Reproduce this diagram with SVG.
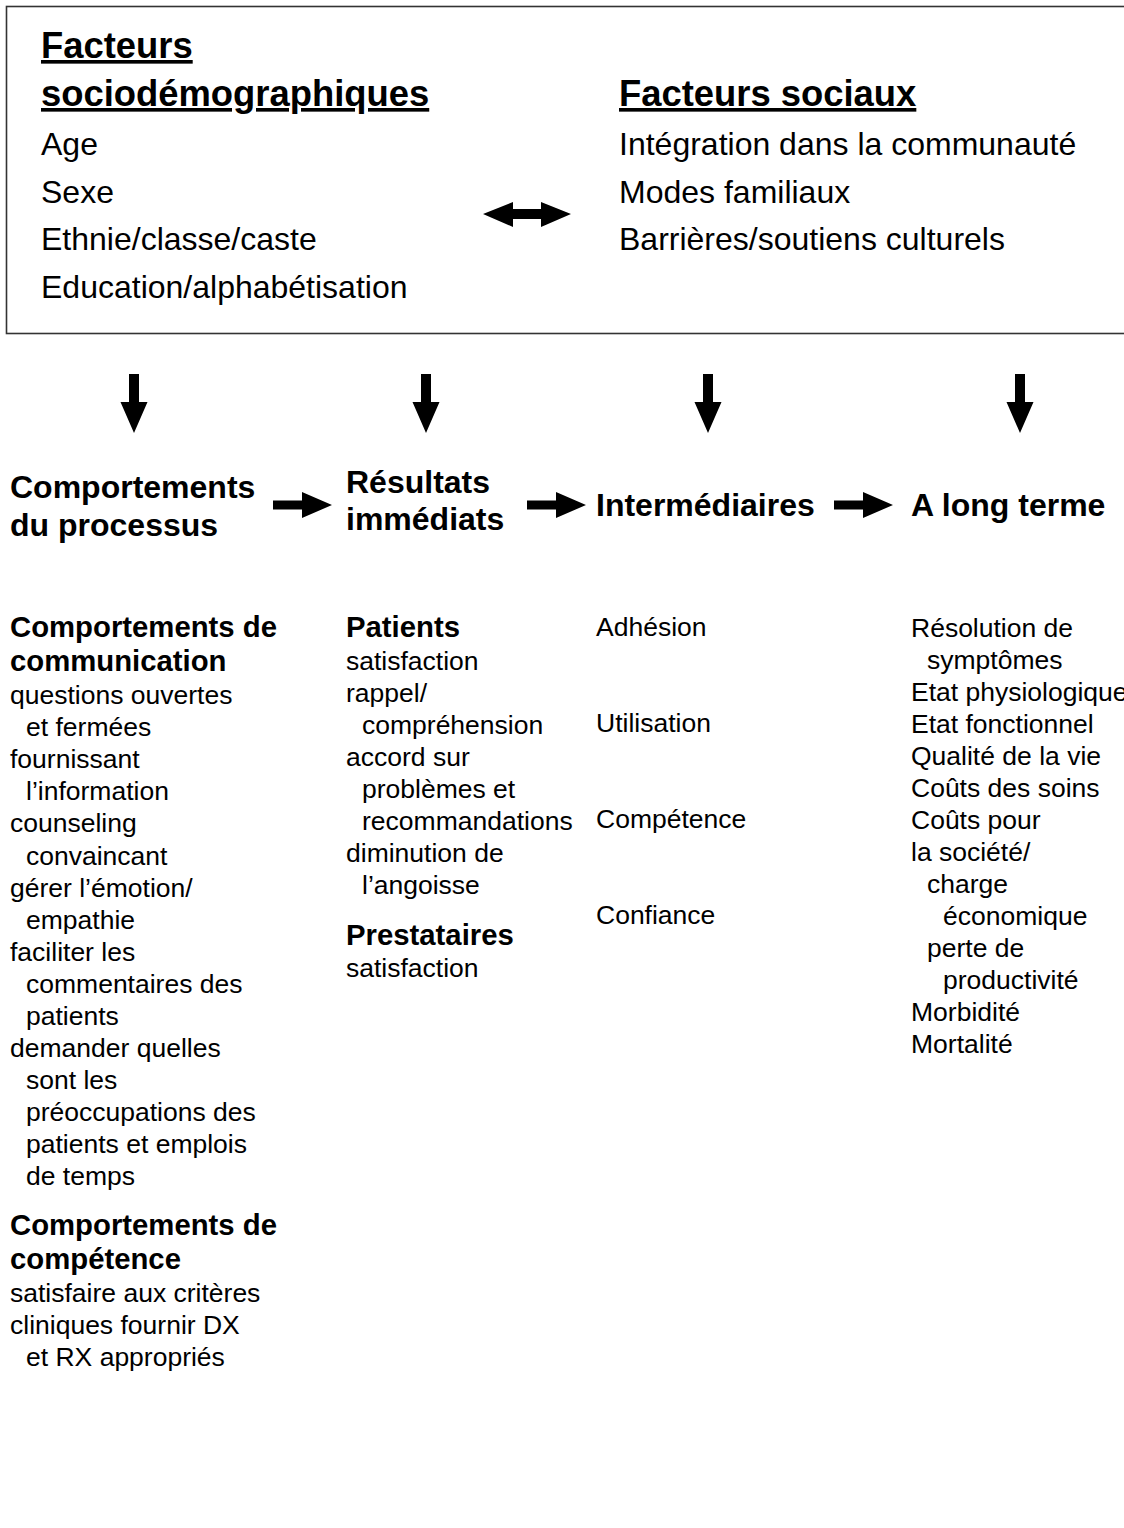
<svg xmlns="http://www.w3.org/2000/svg" xmlns:xlink="http://www.w3.org/1999/xlink" width="1124" height="1528" viewBox="0 0 1124 1528">
<style>
text { font-family: "Liberation Sans", Arial, sans-serif; fill: #000; }
.h1 { font-size: 36.4px; font-weight: bold; text-decoration: underline; }
.t1 { font-size: 32px; }
.h2 { font-size: 32px; font-weight: bold; }
.h3 { font-size: 29.3px; font-weight: bold; }
.t3 { font-size: 26.5px; }
.arr { fill: #000; }
</style>
<defs>
<path id="down" d="M-5,0 H5 V28 H13.5 L0,59 L-13.5,28 H-5 Z"/>
<path id="right" d="M0,-4.5 H29 V-13 L59,0 L29,13 V4.5 H0 Z"/>
</defs>
<rect width="1124" height="1528" fill="#fff"/>
<g id="box-facteurs">
<rect x="6.5" y="6.5" width="1130" height="327" fill="none" stroke="#333" stroke-width="1.6"/>
<g id="socio">
<text class="h1" x="41" y="58">Facteurs</text>
<text class="h1" x="41" y="106">sociodémographiques</text>
<text class="t1" x="41" y="155">Age</text>
<text class="t1" x="41" y="203">Sexe</text>
<text class="t1" x="41" y="250">Ethnie/classe/caste</text>
<text class="t1" x="41" y="298">Education/alphabétisation</text>
</g>
<g id="sociaux">
<text class="h1" x="619" y="106">Facteurs sociaux</text>
<text class="t1" x="619" y="155">Intégration dans la communauté</text>
<text class="t1" x="619" y="203">Modes familiaux</text>
<text class="t1" x="619" y="250">Barrières/soutiens culturels</text>
</g>
</g>
<g id="connectors" class="arr">
<path d="M483,214 L513,202 V209 H541 V202 L571,214 L541,227 V219 H513 V227 Z"/>
<use xlink:href="#down" x="134" y="374"/>
<use xlink:href="#down" x="426" y="374"/>
<use xlink:href="#down" x="708" y="374"/>
<use xlink:href="#down" x="1020" y="374"/>
<use xlink:href="#right" x="273" y="505"/>
<use xlink:href="#right" x="527" y="505"/>
<use xlink:href="#right" x="834" y="505"/>
</g>
<g id="processus">
<text class="h2" x="10" y="498">Comportements</text>
<text class="h2" x="10" y="536">du processus</text>
</g>
<g id="immediats">
<text class="h2" x="346" y="493">Résultats</text>
<text class="h2" x="346" y="530">immédiats</text>
</g>
<g id="intermediaires">
<text class="h2" x="596" y="516">Intermédiaires</text>
</g>
<g id="long-terme">
<text class="h2" x="911" y="516">A long terme</text>
</g>
<g id="col-processus">
<text class="h3" x="10" y="637">Comportements de</text>
<text class="h3" x="10" y="671">communication</text>
<text class="t3" x="10" y="704">questions ouvertes</text>
<text class="t3" x="26" y="736">et fermées</text>
<text class="t3" x="10" y="768">fournissant</text>
<text class="t3" x="26" y="800">l’information</text>
<text class="t3" x="10" y="832">counseling</text>
<text class="t3" x="26" y="865">convaincant</text>
<text class="t3" x="10" y="897">gérer l’émotion/</text>
<text class="t3" x="26" y="929">empathie</text>
<text class="t3" x="10" y="961">faciliter les</text>
<text class="t3" x="26" y="993">commentaires des</text>
<text class="t3" x="26" y="1025">patients</text>
<text class="t3" x="10" y="1057">demander quelles</text>
<text class="t3" x="26" y="1089">sont les</text>
<text class="t3" x="26" y="1121">préoccupations des</text>
<text class="t3" x="26" y="1153">patients et emplois</text>
<text class="t3" x="26" y="1185">de temps</text>
<text class="h3" x="10" y="1235">Comportements de</text>
<text class="h3" x="10" y="1269">compétence</text>
<text class="t3" x="10" y="1302">satisfaire aux critères</text>
<text class="t3" x="10" y="1334">cliniques fournir DX</text>
<text class="t3" x="26" y="1366">et RX appropriés</text>
</g>
<g id="col-immediats">
<text class="h3" x="346" y="637">Patients</text>
<text class="t3" x="346" y="670">satisfaction</text>
<text class="t3" x="346" y="702">rappel/</text>
<text class="t3" x="362" y="734">compréhension</text>
<text class="t3" x="346" y="766">accord sur</text>
<text class="t3" x="362" y="798">problèmes et</text>
<text class="t3" x="362" y="830">recommandations</text>
<text class="t3" x="346" y="862">diminution de</text>
<text class="t3" x="362" y="894">l’angoisse</text>
<text class="h3" x="346" y="945">Prestataires</text>
<text class="t3" x="346" y="977">satisfaction</text>
</g>
<g id="col-intermediaires">
<text class="t3" x="596" y="636">Adhésion</text>
<text class="t3" x="596" y="732">Utilisation</text>
<text class="t3" x="596" y="828">Compétence</text>
<text class="t3" x="596" y="924">Confiance</text>
</g>
<g id="col-long-terme">
<text class="t3" x="911" y="637">Résolution de</text>
<text class="t3" x="927" y="669">symptômes</text>
<text class="t3" x="911" y="701">Etat physiologique</text>
<text class="t3" x="911" y="733">Etat fonctionnel</text>
<text class="t3" x="911" y="765">Qualité de la vie</text>
<text class="t3" x="911" y="797">Coûts des soins</text>
<text class="t3" x="911" y="829">Coûts pour</text>
<text class="t3" x="911" y="861">la société/</text>
<text class="t3" x="927" y="893">charge</text>
<text class="t3" x="943" y="925">économique</text>
<text class="t3" x="927" y="957">perte de</text>
<text class="t3" x="943" y="989">productivité</text>
<text class="t3" x="911" y="1021">Morbidité</text>
<text class="t3" x="911" y="1053">Mortalité</text>
</g>
</svg>
